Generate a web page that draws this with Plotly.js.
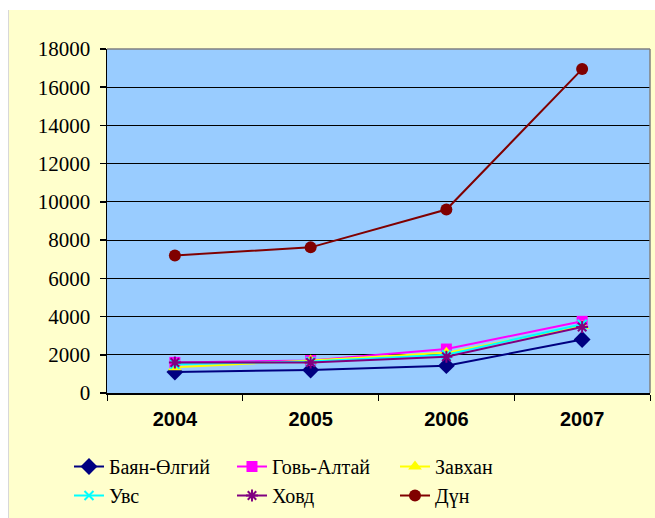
<!DOCTYPE html>
<html>
<head>
<meta charset="utf-8">
<script src="https://cdn.plot.ly/plotly-3.0.1.min.js"></script>
<style>
html,body{margin:0;padding:0;background:#ffffff;}
#frame{position:absolute;left:8px;top:10px;width:647px;height:508px;background:#FFFFCC;}
#edge{position:absolute;left:8px;top:10px;width:1px;height:508px;background:#d8d8d8;z-index:5;}
#chart{position:absolute;left:8px;top:10px;width:647px;height:508px;}
</style>
</head>
<body>
<div id="frame"></div>
<div id="chart"></div>
<div id="edge"></div>
<script>
const years = ['2004', '2005', '2006', '2007'];
const seriesNames = ['Баян-Өлгий', 'Говь-Алтай', 'Завхан', 'Увс', 'Ховд', 'Дүн'];
const bayanOlgii = [1100, 1200, 1430, 2800];
const goviAltai = [1600, 1700, 2300, 3750];
const zavkhan = [1350, 1700, 2100, 3500];
const uvs = [1500, 1650, 2000, 3600];
const khovd = [1600, 1600, 1900, 3450];
const total = [7200, 7620, 9600, 16950];
const yTicks = [0, 2000, 4000, 6000, 8000, 10000, 12000, 14000, 16000, 18000];

const values = [bayanOlgii, goviAltai, zavkhan, uvs, khovd, total];
const colors = ['#000080', '#FF00FF', '#FFFF00', '#00FFFF', '#800080', '#800000'];
const symbols = ['diamond', 'square', 'triangle-up', 'x-thin-open', 'asterisk-open', 'circle'];
const sizes = [13, 11, 12, 9, 10, 12];

const serif = 'Liberation Serif, Times New Roman, serif';
const sans = 'Liberation Sans, Arial, sans-serif';

const traces = seriesNames.map((name, i) => ({
  type: 'scatter',
  mode: 'lines+markers',
  name: name,
  x: years,
  y: values[i],
  line: {color: colors[i], width: 2},
  marker: {symbol: symbols[i], color: colors[i], size: sizes[i], line: {color: colors[i], width: (i === 3 || i === 4) ? 2 : 0}}
}));

const layout = {
  width: 647, height: 508,
  margin: {l: 99, r: 5, t: 39, b: 125, autoexpand: false},
  paper_bgcolor: 'rgba(0,0,0,0)',
  plot_bgcolor: '#99CCFF',
  showlegend: true,
  font: {family: serif},
  xaxis: {
    type: 'category',
    tickson: 'boundaries',
    ticks: 'outside', ticklen: 6, tickcolor: '#000', tickwidth: 1,
    ticklabelstandoff: 7,
    showgrid: false,
    showline: true, linecolor: '#000', linewidth: 1.5,
    mirror: false,
    tickfont: {family: sans, size: 20, color: '#000', weight: 'bold'},
    range: [-0.5, 3.5]
  },
  yaxis: {
    range: [0, 18000],
    tickvals: yTicks,
    ticktext: yTicks.map(String),
    ticks: 'outside', ticklen: 6, tickcolor: '#000', tickwidth: 1.5,
    ticklabelstandoff: 5,
    showgrid: true, gridcolor: '#000', gridwidth: 1.2,
    showline: true, linecolor: '#000', linewidth: 1.5,
    zeroline: false,
    tickfont: {family: serif, size: 21, color: '#000'}
  },
  shapes: [
    {type: 'line', xref: 'paper', yref: 'paper', x0: 0, x1: 1, y0: 1, y1: 1, line: {color: '#808080', width: 1.5}},
    {type: 'line', xref: 'paper', yref: 'paper', x0: 1, x1: 1, y0: 0, y1: 1, line: {color: '#808080', width: 1.5}}
  ],
  legend: {
    orientation: 'h',
    x: -0.07, xanchor: 'left',
    y: -0.157, yanchor: 'top',
    bgcolor: 'rgba(0,0,0,0)',
    entrywidth: 118, entrywidthmode: 'pixels',
    tracegroupgap: 0,
    font: {family: serif, size: 20, color: '#000'}
  }
};

Plotly.newPlot('chart', traces, layout, {displayModeBar: false, staticPlot: true});
</script>
</body>
</html>
